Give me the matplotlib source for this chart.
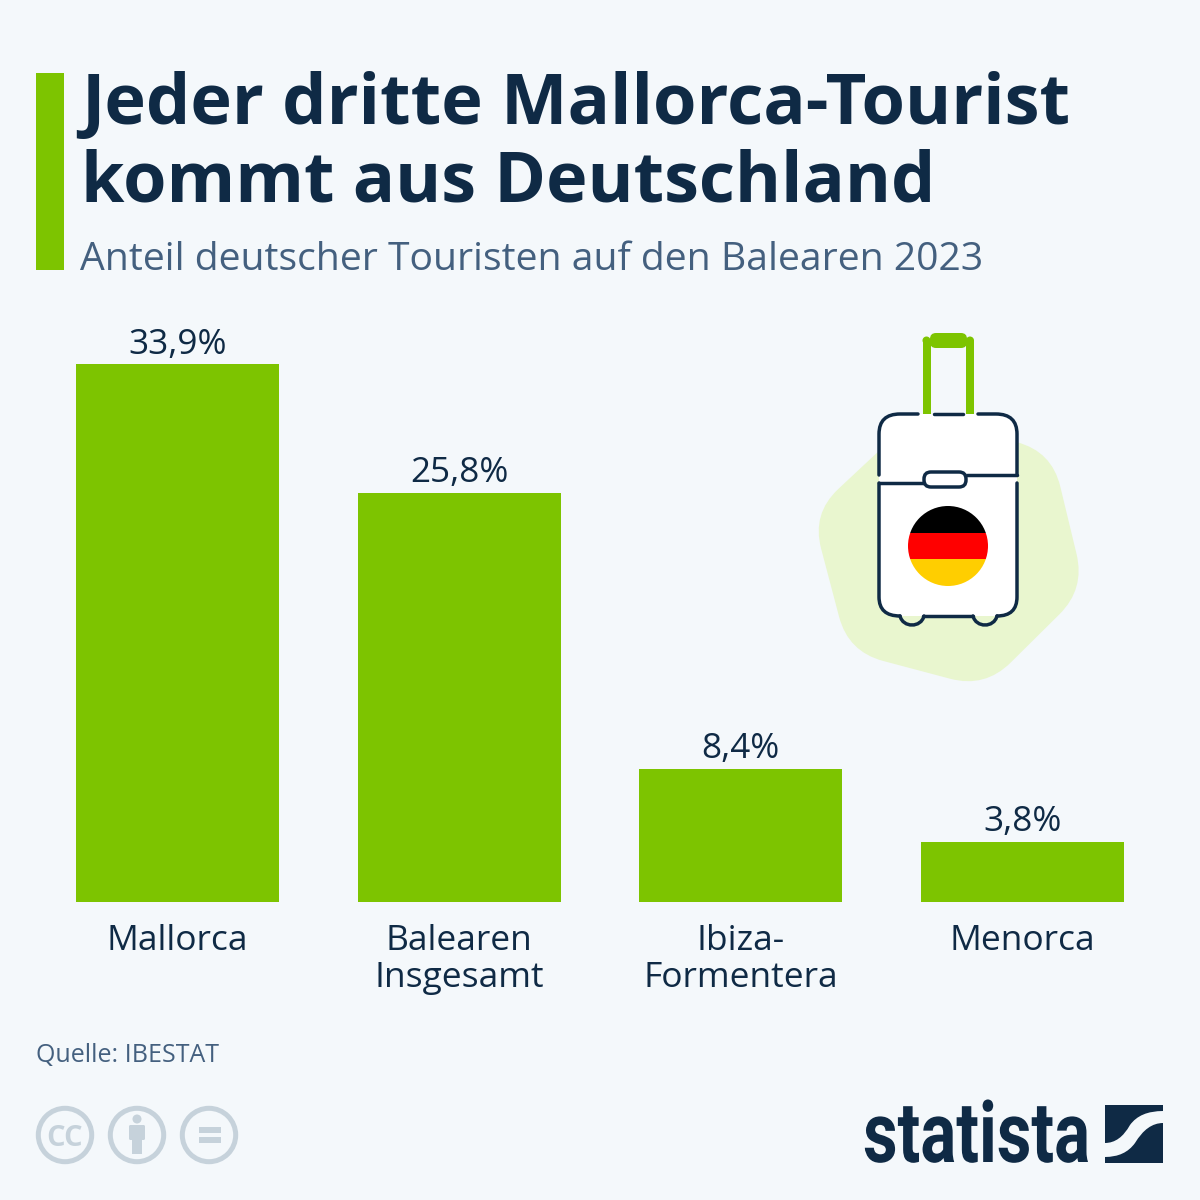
import matplotlib
matplotlib.use("Agg")
import matplotlib.pyplot as plt
from matplotlib.patches import Rectangle, Circle, PathPatch, FancyBboxPatch
from matplotlib.path import Path
from matplotlib.patheffects import AbstractPathEffect
from matplotlib.transforms import Affine2D
import numpy as np

categories = ["Mallorca", "Balearen\nInsgesamt", "Ibiza-\nFormentera", "Menorca"]
values = [33.9, 25.8, 8.4, 3.8]
value_labels = ["33,9%", "25,8%", "8,4%", "3,8%"]

BG = "#f4f8fb"
GREEN = "#7dc400"
NAVY = "#0f2a45"
SUB = "#44607f"
GREY = "#c6d2db"
PALE = "#e9f6cf"

plt.rcParams["font.family"] = ["Open Sans", "DejaVu Sans"]
fig = plt.figure(figsize=(12, 12), dpi=100, facecolor=BG)

# overlay in pixel coordinates
ov = fig.add_axes([0, 0, 1, 1], zorder=1)
ov.set_xlim(0, 1200); ov.set_ylim(1200, 0); ov.axis("off")

# bars
ax = fig.add_axes([76/1200, (1200-902)/1200, 1048/1200, 538/1200], zorder=2)
ax.patch.set_alpha(0)
xs = np.arange(len(values))
ax.bar(xs, values, width=0.7215, color=GREEN)
ax.set_xlim(-0.3607, 3.3607)
ax.set_ylim(0, 33.9)
for s in ax.spines.values():
    s.set_visible(False)
ax.set_yticks([])
ax.set_xticks(xs)
ax.set_xticklabels(categories, fontsize=25.5, color=NAVY, linespacing=1.12)
ax.tick_params(axis="x", length=0, pad=15.7)
for x, v, l in zip(xs, values, value_labels):
    ax.annotate(l, (x, v), xytext=(0, 1.8), textcoords="offset points",
                ha="center", va="bottom", fontsize=25.3, color=NAVY, clip_on=False)

# header
ov.add_patch(Rectangle((36, 73), 28, 197, color=GREEN, lw=0))
ov.text(81, 124, "Jeder dritte Mallorca-Tourist", fontsize=50.7, fontweight="bold", color=NAVY, va="baseline")
ov.text(81, 202, "kommt aus Deutschland", fontsize=50.5, fontweight="bold", color=NAVY, va="baseline")
ov.text(80, 270, "Anteil deutscher Touristen auf den Balearen 2023", fontsize=28.15, color=SUB, va="baseline")

# footer
ov.text(36, 1062, "Quelle: IBESTAT", fontsize=18, color=SUB, va="baseline")


def rounded_poly(pts, r):
    pts = np.array(pts, float)
    n = len(pts)
    verts, codes = [], []
    for i in range(n):
        p, a, b = pts[i], pts[i-1], pts[(i+1) % n]
        d1 = (a-p)/np.linalg.norm(a-p)
        d2 = (b-p)/np.linalg.norm(b-p)
        s, e = p+d1*r, p+d2*r
        verts.append(s); codes.append(Path.MOVETO if i == 0 else Path.LINETO)
        verts += [p, e]; codes += [Path.CURVE3, Path.CURVE3]
    verts.append(verts[0]); codes.append(Path.CLOSEPOLY)
    return Path(verts, codes)


# pale background shape
ov.add_patch(PathPatch(rounded_poly([(916.6, 415.7), (1051.8, 451.4), (1085, 589), (985, 688), (848.3, 651.7), (811.9, 513.7)], 36),
                       fc=PALE, ec="none"))

# handle
LW = 2.5
for hx in (926.5, 970):
    ov.add_patch(Rectangle((hx-4, 340), 8, 74, fc=GREEN, ec="none", zorder=2))
    ov.add_patch(Circle((hx, 340.5), 4, fc=GREEN, ec="none", zorder=2))
ov.add_patch(FancyBboxPatch((930, 333), 37, 15, boxstyle="round,pad=0,rounding_size=6", fc=GREEN, ec="none", zorder=3))

# suitcase body
L, R, T, B = 879, 1017, 414, 616
body = Path([(L, T+20), (L, T), (L+20, T), (R-20, T), (R, T), (R, T+20), (R, B-20), (R, B), (R-20, B),
             (L+20, B), (L, B), (L, B-20), (L, T+20)],
            [Path.MOVETO, Path.CURVE3, Path.CURVE3, Path.LINETO, Path.CURVE3, Path.CURVE3, Path.LINETO,
             Path.CURVE3, Path.CURVE3, Path.LINETO, Path.CURVE3, Path.CURVE3, Path.CLOSEPOLY])
ov.add_patch(PathPatch(body, fc="white", ec="none", zorder=2))


def stroke(verts, codes=None):
    ov.add_patch(PathPatch(Path(verts, codes), fc="none", ec=NAVY, lw=LW, capstyle="round", zorder=4))


C3 = Path.CURVE3
C4 = Path.CURVE4
M = Path.MOVETO
LN = Path.LINETO
stroke([(918, T), (L+21, T), (L, T), (L, T+20), (L, 475)], [M, LN, C3, C3, LN])
stroke([(934, T), (963, T)])
stroke([(978, T), (R-21, T), (R, T), (R, T+20), (R, 475)], [M, LN, C3, C3, LN])
stroke([(967, 475), (R, 475)])
stroke([(R, 483), (R, 597), (R, B), (997, B)], [M, LN, C3, C3])
stroke([(L, 483), (L, 597), (L, B), (900, B)], [M, LN, C3, C3])
stroke([(L, 483), (923, 483)])
# wheels and base
stroke([(923, B), (973, B)])
stroke([(900, B), (903, 628), (921, 628), (924, B)], [M, C4, C4, C4])
stroke([(973, B), (976, 628), (994, 628), (997, B)], [M, C4, C4, C4])
# latch
ov.add_patch(FancyBboxPatch((924, 472), 42, 15, boxstyle="round,pad=0,rounding_size=7", fc="white", ec=NAVY, lw=LW, zorder=4))

# flag
cx, cy, r = 948, 546, 40
clip = Circle((cx, cy), r, transform=ov.transData)
for y0, col in zip((cy-r, cy-r/3, cy+r/3), ("#000000", "#ff0000", "#ffce00")):
    rect = Rectangle((cx-r, y0), 2*r, 2*r/3, fc=col, ec="none", zorder=5)
    ov.add_patch(rect)
    rect.set_clip_path(clip)

# licence icons
for c in (65, 137, 209):
    ov.add_patch(Circle((c, 1135), 26.7, fc="none", ec=GREY, lw=3.6))
ov.text(65, 1135, "CC", fontsize=21, fontweight="bold", color=GREY, ha="center", va="center_baseline")
ov.add_patch(Circle((137, 1119), 4.5, fc=GREY, ec="none"))
ov.add_patch(FancyBboxPatch((129, 1125), 16, 15, boxstyle="round,pad=0,rounding_size=1.5", fc=GREY, ec="none"))
ov.add_patch(Rectangle((132, 1135), 10, 19, fc=GREY, ec="none"))
ov.add_patch(Rectangle((199, 1127), 22, 6, fc=GREY, ec="none"))
ov.add_patch(Rectangle((199, 1137), 22, 6, fc=GREY, ec="none"))


# statista logo: real text, squeezed horizontally to the logo's condensed proportions
class Squeeze(AbstractPathEffect):
    def __init__(self, sx, x0):
        super().__init__()
        self.sx, self.x0 = sx, x0

    def draw_path(self, renderer, gc, tpath, affine, rgbFace=None):
        t = affine + Affine2D().translate(-self.x0, 0).scale(self.sx, 1).translate(self.x0, 0)
        renderer.draw_path(gc, tpath, t, rgbFace)


logo = ov.text(863, 1162, "statista", fontsize=61, fontweight="bold", color=NAVY, family="Roboto", va="baseline")
bb = logo.get_window_extent(fig.canvas.get_renderer())
logo.set_path_effects([Squeeze(227/bb.width, bb.x0)])

ov.add_patch(PathPatch(Path(
    [(1105, 1105), (1163, 1105), (1163, 1111), (1140, 1111), (1130, 1125), (1120, 1143), (1105, 1143), (1105, 1105)],
    [M, LN, LN, C3, C3, C3, C3, Path.CLOSEPOLY]), fc=NAVY, ec="none"))
ov.add_patch(PathPatch(Path(
    [(1163, 1123), (1163, 1163), (1105, 1163), (1105, 1157), (1125, 1157), (1135, 1143), (1147, 1123), (1163, 1123), (1163, 1123)],
    [M, LN, LN, LN, C3, C3, C3, C3, Path.CLOSEPOLY]), fc=NAVY, ec="none"))

fig.savefig("out.png", dpi=100, facecolor=BG)
